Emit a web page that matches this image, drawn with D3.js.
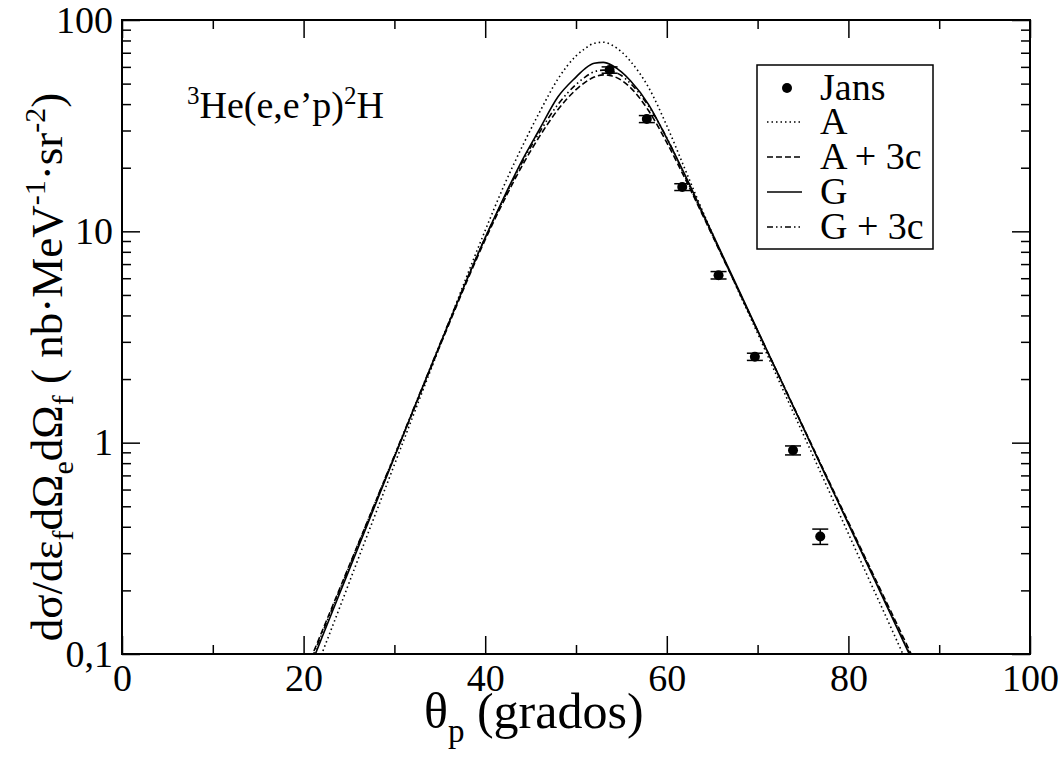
<!DOCTYPE html>
<html>
<head>
<meta charset="utf-8">
<script src="https://cdn.jsdelivr.net/npm/d3@7"></script>
<style>
body { margin: 0; background: #fff; }
text { font-family: "Liberation Serif", "Times New Roman", serif; fill: #000; }
</style>
</head>
<body>
<svg id="chart" width="1062" height="761"></svg>
<script>
// angle grid (degrees) shared by the four theory curves
var theta = [20, 22, 24, 26, 28, 30, 32, 34, 36, 38, 40, 42, 44, 46, 48,
             50, 51, 52, 53, 54, 55, 56,
             58, 60, 62, 64, 66, 68, 70, 72, 74, 76, 78, 80, 82, 84, 86, 88];

// A (dotted)
var curveA = [0.0597, 0.100, 0.167, 0.281, 0.470, 0.787, 1.32, 2.21, 3.70, 6.17, 10.1, 16.2, 24.8, 36.7, 52.5,
              67.6, 73.3, 77.6, 78.5, 75.9, 70.8, 63.8,
              47.9, 31.6, 19.7, 12.3, 7.87, 5.08, 3.29, 2.12, 1.37, 0.887, 0.573, 0.371, 0.239, 0.155, 0.100, 0.0646];
// A + 3c (dashed)
var curveA3c = [0.0787, 0.127, 0.205, 0.331, 0.535, 0.863, 1.39, 2.25, 3.63, 5.82, 9.12, 13.8, 20.2, 28.2, 37.6,
                46.8, 50.7, 53.7, 55.0, 54.3, 51.9, 47.9,
                37.2, 26.3, 17.8, 11.8, 7.78, 5.13, 3.38, 2.23, 1.47, 0.968, 0.638, 0.421, 0.277, 0.183, 0.121, 0.0794];
// G (solid)
var curveG = [0.0724, 0.119, 0.195, 0.318, 0.521, 0.853, 1.40, 2.28, 3.69, 5.93, 9.33, 14.3, 21.4, 30.5, 43.2,
              53.7, 58.9, 62.4, 63.0, 60.9, 56.8, 51.6,
              39.8, 27.5, 18.5, 12.1, 7.93, 5.20, 3.40, 2.23, 1.46, 0.957, 0.628, 0.412, 0.270, 0.177, 0.116, 0.076];
// G + 3c (dash-dot-dot)
var curveG3c = [0.0766, 0.124, 0.202, 0.329, 0.535, 0.869, 1.41, 2.29, 3.72, 5.96, 9.33, 14.1, 20.9, 29.5, 39.8,
                49.5, 53.7, 56.9, 57.9, 57.1, 54.6, 50.1,
                39.1, 27.7, 18.2, 11.9, 7.82, 5.14, 3.38, 2.22, 1.46, 0.962, 0.632, 0.416, 0.274, 0.180, 0.118, 0.0778];

// Jans data
var jansTheta = [53.7, 57.8, 61.7, 65.7, 69.7, 73.9, 76.9];
var jansValue = [58, 34, 16.2, 6.2, 2.55, 0.92, 0.36];
var jansError = [2.0, 1.3, 0.6, 0.25, 0.1, 0.045, 0.03];

var xTicks = [0, 20, 40, 60, 80, 100];
var xMinor = [10, 30, 50, 70, 90];
var yTicks = [0.1, 1, 10, 100];
var yTickLabels = ["0,1", "1", "10", "100"];
var yMinor = [0.2, 0.3, 0.4, 0.5, 0.6, 0.7, 0.8, 0.9, 2, 3, 4, 5, 6, 7, 8, 9, 20, 30, 40, 50, 60, 70, 80, 90];

var legendNames = ["A", "A + 3c", "G", "G + 3c"];
var legendDash = ["1.5,3", "6,3", null, "6,3,1.5,3,1.5,3"];

var pLeft = 122, pRight = 1030, pTop = 20, pBottom = 654;

var svg = d3.select("#chart");

var x = d3.scaleLinear().domain([0, 100]).range([pLeft, pRight]);
var y = d3.scaleLog().domain([0.1, 100]).range([pBottom, pTop]);

svg.append("defs").append("clipPath").attr("id", "plot-clip")
  .append("rect")
  .attr("x", pLeft).attr("y", pTop)
  .attr("width", pRight - pLeft).attr("height", pBottom - pTop);

// axes: ticks inside the frame on all four sides
function styleAxis(g) {
  g.select(".domain").remove();
  g.selectAll(".tick line").attr("stroke", "#000").attr("stroke-width", 1.5);
  g.selectAll(".tick text").style("font-size", "38px").attr("fill", "#000");
}

svg.append("g").attr("transform", "translate(0," + pBottom + ")")
  .call(d3.axisBottom(x).tickValues(xTicks).tickSize(-18).tickPadding(10).tickFormat(d3.format("d")))
  .call(styleAxis);
svg.append("g").attr("transform", "translate(0," + pBottom + ")")
  .call(d3.axisBottom(x).tickValues(xMinor).tickSize(-9).tickFormat(""))
  .call(styleAxis);
svg.append("g").attr("transform", "translate(0," + pTop + ")")
  .call(d3.axisTop(x).tickValues(xTicks).tickSize(-18).tickFormat(""))
  .call(styleAxis);
svg.append("g").attr("transform", "translate(0," + pTop + ")")
  .call(d3.axisTop(x).tickValues(xMinor).tickSize(-9).tickFormat(""))
  .call(styleAxis);

svg.append("g").attr("transform", "translate(" + pLeft + ",0)")
  .call(d3.axisLeft(y).tickValues(yTicks).tickSize(-18).tickPadding(9)
    .tickFormat(function(d, i) { return yTickLabels[i]; }))
  .call(styleAxis);
svg.append("g").attr("transform", "translate(" + pLeft + ",0)")
  .call(d3.axisLeft(y).tickValues(yMinor).tickSize(-9).tickFormat(""))
  .call(styleAxis);
svg.append("g").attr("transform", "translate(" + pRight + ",0)")
  .call(d3.axisRight(y).tickValues(yTicks).tickSize(-18).tickFormat(""))
  .call(styleAxis);
svg.append("g").attr("transform", "translate(" + pRight + ",0)")
  .call(d3.axisRight(y).tickValues(yMinor).tickSize(-9).tickFormat(""))
  .call(styleAxis);

svg.append("rect")
  .attr("x", pLeft).attr("y", pTop)
  .attr("width", pRight - pLeft).attr("height", pBottom - pTop)
  .attr("fill", "none").attr("stroke", "#000").attr("stroke-width", 2);

// theory curves
var line = d3.line()
  .x(function(d) { return x(d[0]); })
  .y(function(d) { return y(d[1]); })
  .curve(d3.curveMonotoneX);

var curves = [curveA, curveA3c, curveG, curveG3c];
var plot = svg.append("g").attr("clip-path", "url(#plot-clip)");
curves.forEach(function(vals, k) {
  plot.append("path")
    .datum(theta.map(function(t, i) { return [t, vals[i]]; }))
    .attr("d", line)
    .attr("fill", "none")
    .attr("stroke", "#000")
    .attr("stroke-width", 1.6)
    .attr("stroke-dasharray", legendDash[k]);
});

// data with error bars
var pts = jansTheta.map(function(t, i) { return { t: t, v: jansValue[i], e: jansError[i] }; });
var capW = 8;
var pg = plot.selectAll(".pt").data(pts).enter().append("g").attr("class", "pt");
pg.append("line")
  .attr("x1", function(d) { return x(d.t); }).attr("x2", function(d) { return x(d.t); })
  .attr("y1", function(d) { return y(d.v - d.e); }).attr("y2", function(d) { return y(d.v + d.e); })
  .attr("stroke", "#000").attr("stroke-width", 1.5);
pg.append("line")
  .attr("x1", function(d) { return x(d.t) - capW; }).attr("x2", function(d) { return x(d.t) + capW; })
  .attr("y1", function(d) { return y(d.v - d.e); }).attr("y2", function(d) { return y(d.v - d.e); })
  .attr("stroke", "#000").attr("stroke-width", 1.5);
pg.append("line")
  .attr("x1", function(d) { return x(d.t) - capW; }).attr("x2", function(d) { return x(d.t) + capW; })
  .attr("y1", function(d) { return y(d.v + d.e); }).attr("y2", function(d) { return y(d.v + d.e); })
  .attr("stroke", "#000").attr("stroke-width", 1.5);
pg.append("circle")
  .attr("cx", function(d) { return x(d.t); })
  .attr("cy", function(d) { return y(d.v); })
  .attr("r", 5).attr("fill", "#000");

// text with sub/superscripts: [text, shift, small]
function richText(sel, parts, smallSize) {
  var prev = 0;
  parts.forEach(function(p) {
    var shift = p[1] || 0;
    var ts = sel.append("tspan").attr("dy", shift - prev).text(p[0]);
    if (p[2]) ts.style("font-size", smallSize);
    prev = shift;
  });
}

// reaction label
var title = svg.append("text").attr("x", 187).attr("y", 118).style("font-size", "38px");
richText(title, [["3", -14, true], ["He(e,e\u2019p)", 0], ["2", -14, true], ["H", 0]], "25px");

// legend
var lg = svg.append("g");
lg.append("rect").attr("x", 757).attr("y", 65).attr("width", 176).attr("height", 184)
  .attr("fill", "#fff").attr("stroke", "#000").attr("stroke-width", 1.5);
lg.append("circle").attr("cx", 787).attr("cy", 88).attr("r", 5).attr("fill", "#000");
lg.append("text").attr("x", 820).attr("y", 100).style("font-size", "38px").text("Jans");
legendNames.forEach(function(name, i) {
  var yy = 122 + i * 35;
  lg.append("line").attr("x1", 767).attr("x2", 802).attr("y1", yy).attr("y2", yy)
    .attr("stroke", "#000").attr("stroke-width", 1.6)
    .attr("stroke-dasharray", legendDash[i]);
  lg.append("text").attr("x", 820).attr("y", yy + 12).style("font-size", "38px").text(name);
});

// axis titles
var xl = svg.append("text").attr("x", 424).attr("y", 728).style("font-size", "50px");
richText(xl, [["\u03b8", 0], ["p", 14, true], [" (grados)", 0]], "33px");

var yl = svg.append("text")
  .attr("transform", "translate(62,367) rotate(-90)")
  .attr("text-anchor", "middle")
  .style("font-size", "45px");
richText(yl, [
  ["d\u03c3/d\u03b5", 0], ["f", 11, true],
  ["d\u03a9", 0], ["e", 11, true],
  ["d\u03a9", 0], ["f", 11, true],
  [" ( nb\u00b7MeV", 0], ["-1", -17, true],
  ["\u00b7sr", 0], ["-2", -17, true],
  [")", 0]
], "30px");
</script>
</body>
</html>
